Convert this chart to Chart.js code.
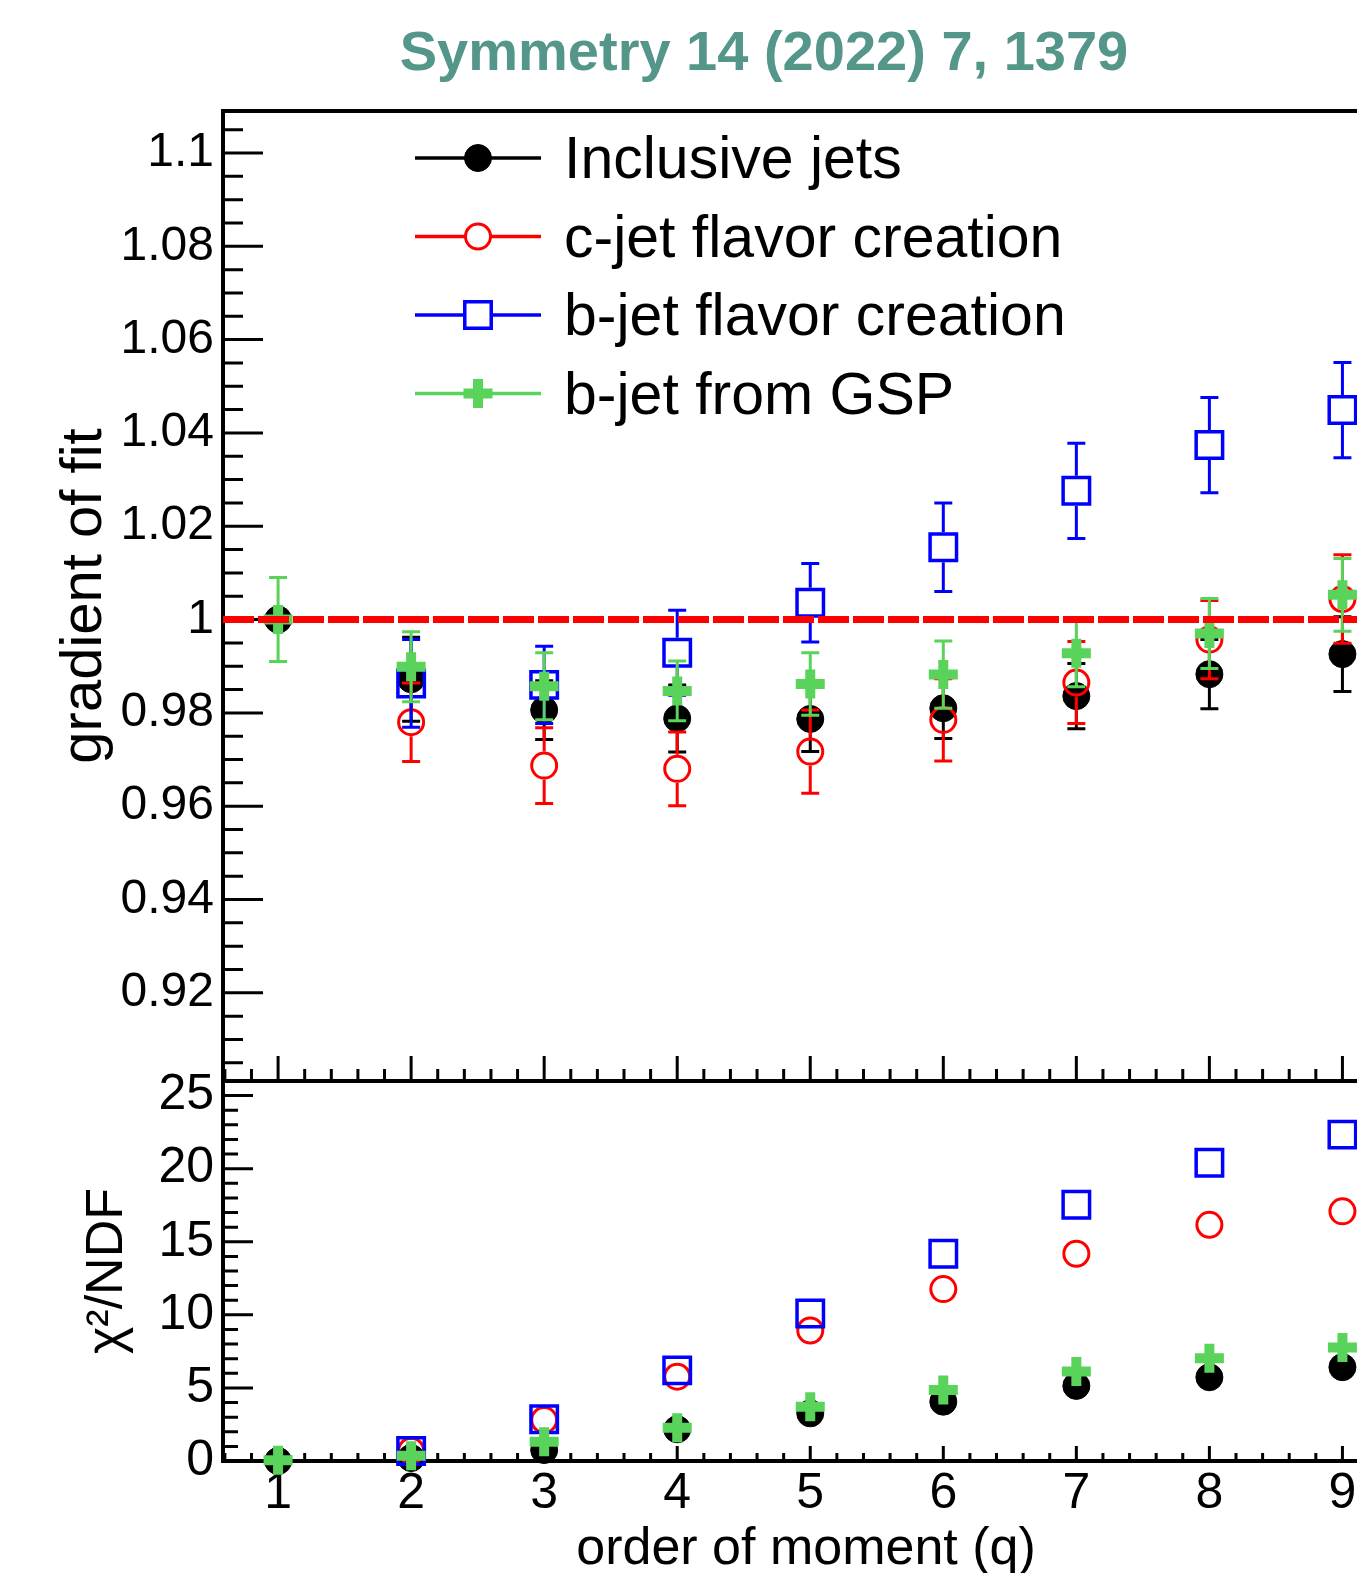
<!DOCTYPE html>
<html>
<head>
<meta charset="utf-8">
<title>gradient of fit vs order of moment</title>
<script src="https://cdn.jsdelivr.net/npm/chart.js@4.4.0/dist/chart.umd.min.js"></script>
<style>
  html, body { margin: 0; padding: 0; background: #fff; overflow: hidden; width: 1357px; height: 1573px; }
  #title {
    position: absolute; top: 23px; left: 764px; transform: translateX(-50%);
    white-space: nowrap; font: bold 56px "Liberation Sans", Arial, sans-serif;
    line-height: 56px; color: #55968a;
  }
  #topChart { position: absolute; left: 0; top: 0; }
  #bottomChart { position: absolute; left: 0; top: 1060px; }
</style>
</head>
<body>
<div id="title">Symmetry 14 (2022) 7, 1379</div>
<canvas id="topChart" width="1400" height="1100"></canvas>
<canvas id="bottomChart" width="1400" height="513"></canvas>
<script>
// 1. DATA (null = no point at that q)
const moments = [1, 2, 3, 4, 5, 6, 7, 8, 9];
const seriesNames = ['Inclusive jets', 'c-jet flavor creation', 'b-jet flavor creation', 'b-jet from GSP'];

// gradient of fit, with errors
const inclusiveGrad = [1.000, 0.9872, 0.9806, 0.9788, 0.9787, 0.9810, 0.9836, 0.9883, 0.9926];
const inclusiveErr  = [0, 0.0090, 0.0063, 0.0072, 0.0070, 0.0065, 0.0070, 0.0074, 0.0080];
const cjetGrad = [null, 0.9780, 0.9687, 0.9680, 0.9717, 0.9785, 0.9865, 0.9957, 1.0044];
const cjetErr  = [0, 0.0084, 0.0081, 0.0079, 0.0089, 0.0088, 0.0088, 0.0084, 0.0095];
const bjetGrad = [null, 0.9863, 0.9860, 0.9929, 1.0036, 1.0155, 1.0276, 1.0374, 1.0449];
const bjetErr  = [0, 0.0094, 0.0083, 0.0091, 0.0084, 0.0095, 0.0102, 0.0102, 0.0102];
const gspGrad = [1.000, 0.9899, 0.9857, 0.9847, 0.9862, 0.9882, 0.9928, 0.9970, 1.0053];
const gspErr  = [0.0090, 0.0075, 0.0072, 0.0064, 0.0067, 0.0072, 0.0072, 0.0075, 0.0078];

// chi2 / NDF
const inclusiveChi = [0.0, 0.2, 0.75, 2.17, 3.26, 4.06, 5.14, 5.73, 6.42];
const cjetChi = [null, 0.7, 2.8, 5.77, 8.93, 11.76, 14.18, 16.16, 17.08];
const bjetChi = [null, 0.68, 2.85, 6.2, 10.09, 14.18, 17.53, 20.41, 22.33];
const gspChi  = [0.05, 0.36, 1.32, 2.28, 3.72, 4.86, 6.12, 7.03, 7.76];

const refLevel = 1;
const gradTicks = [0.92, 0.94, 0.96, 0.98, 1.0, 1.02, 1.04, 1.06, 1.08, 1.1];
const chiTicks = [0, 5, 10, 15, 20, 25];
const momentTicks = [1, 2, 3, 4, 5, 6, 7, 8, 9];

// axis ranges
const xMin = 0.586, xMax = 9.35;
const gradMin = 0.9011, gradMax = 1.109;
const chiMin = 0, chiMax = 26;

// 2. STYLES
const FONT = '"Liberation Sans", Arial, sans-serif';
Chart.defaults.font.family = FONT;
Chart.defaults.color = '#000';

const styles = [
  { color: '#000000', pointStyle: 'circle', radius: 13.5, borderWidth: 1, fill: '#000000', gap: 13 },
  { color: '#ff0000', pointStyle: 'circle', radius: 12.5, borderWidth: 3, fill: 'rgba(0,0,0,0)', gap: 14 },
  { color: '#0000ff', pointStyle: 'rect', radius: 18.7, borderWidth: 3.5, fill: 'rgba(0,0,0,0)', gap: 15 },
  { color: '#59d359', pointStyle: 'cross', radius: 14.5, borderWidth: 10, fill: '#59d359', gap: 14 }
];

const toPoints = arr => moments.map((q, i) => ({ x: q, y: arr[i] }));

function makeDataset(idx, values, errors) {
  const s = styles[idx];
  return {
    label: seriesNames[idx],
    data: toPoints(values),
    errors: errors,
    errorGap: s.gap,
    pointStyle: s.pointStyle,
    pointRadius: s.radius,
    pointBorderWidth: s.borderWidth,
    borderColor: s.color,
    backgroundColor: s.fill,
    pointBackgroundColor: s.fill,
    pointBorderColor: s.color,
    clip: false,
    order: 3 - idx   // GSP drawn last (on top)
  };
}

// 3. PLUGINS
// ROOT-like frame with inward major/minor ticks
const rootAxes = {
  id: 'rootAxes',
  beforeDatasetsDraw(chart, args, o) {
    const { ctx, chartArea: a, scales: { x, y } } = chart;
    ctx.save();
    ctx.strokeStyle = '#000';
    ctx.lineWidth = 4;
    ctx.beginPath();
    ctx.moveTo(a.left - 2, a.top); ctx.lineTo(a.right, a.top);
    ctx.moveTo(a.left, a.top); ctx.lineTo(a.left, a.bottom);
    ctx.moveTo(a.left - 2, a.bottom); ctx.lineTo(a.right, a.bottom);
    ctx.stroke();

    ctx.lineWidth = 3;
    ctx.beginPath();
    const isMajor = (v, step) => Math.abs(v / step - Math.round(v / step)) < 1e-6;
    for (let k = Math.ceil(y.min / o.yMinor - 1e-9); k * o.yMinor <= y.max + 1e-9; k++) {
      const v = k * o.yMinor;
      const py = y.getPixelForValue(v);
      const len = isMajor(v, o.yMajor) ? o.yMajorLen : o.yMinorLen;
      ctx.moveTo(a.left, py); ctx.lineTo(a.left + len, py);
    }
    for (let k = Math.ceil(x.min / o.xMinor - 1e-9); k * o.xMinor <= x.max + 1e-9; k++) {
      const v = k * o.xMinor;
      const px = x.getPixelForValue(v);
      const len = isMajor(v, o.xMajor) ? o.xMajorLen : o.xMinorLen;
      ctx.moveTo(px, a.bottom); ctx.lineTo(px, a.bottom - len);
    }
    ctx.stroke();
    ctx.restore();
  }
};

// vertical error bars, drawn just before each dataset's markers
const errorBars = {
  id: 'errorBars',
  beforeDatasetDraw(chart, args) {
    const ds = chart.data.datasets[args.index];
    if (!ds.errors) return;
    const { ctx } = chart;
    const yScale = chart.scales.y;
    ctx.save();
    ctx.strokeStyle = ds.borderColor;
    ctx.lineWidth = 3;
    ctx.beginPath();
    args.meta.data.forEach((pt, i) => {
      const err = ds.errors[i];
      const v = ds.data[i].y;
      if (!err || v === null) return;
      const yTop = yScale.getPixelForValue(v + err);
      const yBot = yScale.getPixelForValue(v - err);
      const gap = ds.errorGap;
      if (pt.y - gap > yTop) { ctx.moveTo(pt.x, yTop); ctx.lineTo(pt.x, pt.y - gap); }
      if (pt.y + gap < yBot) { ctx.moveTo(pt.x, pt.y + gap); ctx.lineTo(pt.x, yBot); }
      ctx.moveTo(pt.x - 9, yTop); ctx.lineTo(pt.x + 9, yTop);
      ctx.moveTo(pt.x - 9, yBot); ctx.lineTo(pt.x + 9, yBot);
    });
    ctx.stroke();
    ctx.restore();
  }
};

// ROOT style legend: line with marker, then text
const rootLegend = {
  id: 'rootLegend',
  afterDraw(chart, args, o) {
    const { ctx } = chart;
    ctx.save();
    styles.forEach((s, i) => {
      const yRow = o.top + i * o.rowStep;
      ctx.strokeStyle = s.color;
      ctx.lineWidth = 3.5;
      ctx.beginPath();
      ctx.moveTo(o.lineStart, yRow); ctx.lineTo(o.lineEnd, yRow);
      ctx.stroke();
      const mx = (o.lineStart + o.lineEnd) / 2;
      if (s.pointStyle !== 'cross') {
        ctx.fillStyle = '#fff';
        ctx.fillRect(mx - 12, yRow - 6, 24, 12);
      }
      ctx.fillStyle = s.fill;
      ctx.strokeStyle = s.color;
      ctx.lineWidth = s.borderWidth;
      Chart.helpers.drawPoint(ctx, { pointStyle: s.pointStyle, radius: s.radius, borderWidth: s.borderWidth, rotation: 0 }, mx, yRow);
      ctx.fillStyle = '#000';
      ctx.font = '59px ' + FONT;
      ctx.textBaseline = 'alphabetic';
      ctx.fillText(seriesNames[i], o.textX, yRow + 20);
    });
    ctx.restore();
  }
};

const fixedWidth = w => scale => { scale.width = w; scale.paddingTop = 0; scale.paddingBottom = 0; scale.paddingLeft = 0; scale.paddingRight = 0; };
const fixedHeight = h => scale => { scale.height = h; scale.paddingTop = 0; scale.paddingBottom = 0; scale.paddingLeft = 0; scale.paddingRight = 0; };
const tickLabel = v => String(+(+v).toFixed(2));
const noGrid = { display: false, drawTicks: false };

// 4. TOP PANEL: gradient of fit
new Chart(document.getElementById('topChart'), {
  type: 'scatter',
  data: {
    datasets: [
      {
        type: 'line',
        label: 'reference',
        data: [{ x: xMin, y: refLevel }, { x: xMax, y: refLevel }],
        showLine: true,
        borderColor: '#ff0000',
        borderWidth: 7,
        borderDash: [31, 4],
        pointRadius: 0,
        order: -1
      },
      makeDataset(0, inclusiveGrad, inclusiveErr),
      makeDataset(1, cjetGrad, cjetErr),
      makeDataset(2, bjetGrad, bjetErr),
      makeDataset(3, gspGrad, gspErr)
    ]
  },
  options: {
    responsive: false,
    animation: false,
    layout: { autoPadding: false, padding: { top: 111, right: 11, bottom: 19, left: 0 } },
    scales: {
      x: { type: 'linear', min: xMin, max: xMax, display: false },
      y: {
        type: 'linear', min: gradMin, max: gradMax,
        grid: noGrid, border: { display: false },
        afterBuildTicks: s => { s.ticks = gradTicks.map(v => ({ value: v })); },
        afterFit: fixedWidth(223),
        ticks: { padding: 9, font: { size: 48 }, callback: tickLabel, autoSkip: false },
        title: { display: true, text: 'gradient of fit', font: { size: 58, lineHeight: 1 }, padding: { top: 56, bottom: 0 } }
      }
    },
    plugins: {
      legend: { display: false },
      tooltip: { enabled: false },
      rootAxes: { yMinor: 0.005, yMajor: 0.02, yMajorLen: 40, yMinorLen: 20, xMinor: 0.2, xMajor: 1, xMajorLen: 25, xMinorLen: 12 },
      rootLegend: { top: 158, rowStep: 78.5, lineStart: 415, lineEnd: 541, textX: 564 }
    }
  },
  plugins: [rootAxes, errorBars, rootLegend]
});

// 5. BOTTOM PANEL: chi2 / NDF
new Chart(document.getElementById('bottomChart'), {
  type: 'scatter',
  data: {
    datasets: [
      makeDataset(0, inclusiveChi, null),
      makeDataset(1, cjetChi, null),
      makeDataset(2, bjetChi, null),
      makeDataset(3, gspChi, null)
    ]
  },
  options: {
    responsive: false,
    animation: false,
    layout: { autoPadding: false, padding: { top: 21, right: 11, bottom: 0, left: 0 } },
    scales: {
      x: {
        type: 'linear', min: xMin, max: xMax,
        grid: noGrid, border: { display: false },
        afterBuildTicks: s => { s.ticks = momentTicks.map(v => ({ value: v })); },
        afterFit: fixedHeight(112),
        ticks: { padding: 3, font: { size: 50, lineHeight: 1.2 }, autoSkip: false, maxRotation: 0 },
        title: { display: true, text: 'order of moment (q)', font: { size: 52, lineHeight: 0.9 }, padding: { top: 0, bottom: 0 } }
      },
      y: {
        type: 'linear', min: chiMin, max: chiMax,
        grid: noGrid, border: { display: false },
        afterBuildTicks: s => { s.ticks = chiTicks.map(v => ({ value: v })); },
        afterFit: fixedWidth(223),
        ticks: { padding: 9, font: { size: 50 }, autoSkip: false },
        title: { display: true, text: 'χ²/NDF', font: { size: 52, lineHeight: 1 }, padding: { top: 82, bottom: 0 } }
      }
    },
    plugins: {
      legend: { display: false },
      tooltip: { enabled: false },
      rootAxes: { yMinor: 1, yMajor: 5, yMajorLen: 30, yMinorLen: 15, xMinor: 0.2, xMajor: 1, xMajorLen: 15, xMinorLen: 8 }
    }
  },
  plugins: [rootAxes, errorBars]
});
</script>
</body>
</html>
